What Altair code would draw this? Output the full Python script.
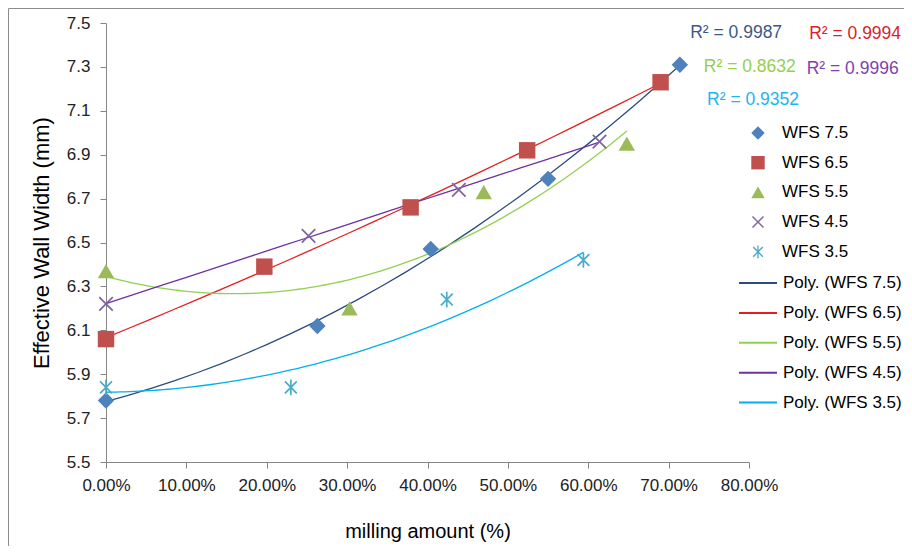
import altair as alt
import pandas as pd

# ---------------- data ----------------
series_names = ["WFS 7.5", "WFS 6.5", "WFS 5.5", "WFS 4.5", "WFS 3.5"]
trend_names = ["Poly. (WFS 7.5)", "Poly. (WFS 6.5)", "Poly. (WFS 5.5)",
               "Poly. (WFS 4.5)", "Poly. (WFS 3.5)"]

x_wfs75 = [0.000, 0.263, 0.404, 0.550, 0.714]
y_wfs75 = [5.78, 6.12, 6.47, 6.79, 7.31]
x_wfs65 = [0.000, 0.197, 0.379, 0.524, 0.690]
y_wfs65 = [6.06, 6.39, 6.66, 6.92, 7.23]
x_wfs55 = [0.000, 0.303, 0.470, 0.648]
y_wfs55 = [6.37, 6.20, 6.73, 6.95]
x_wfs45 = [0.000, 0.252, 0.439, 0.614]
y_wfs45 = [6.22, 6.53, 6.74, 6.96]
x_wfs35 = [0.000, 0.230, 0.424, 0.594]
y_wfs35 = [5.84, 5.84, 6.24, 6.42]

r2_labels = ["R² = 0.9987", "R² = 0.9994", "R² = 0.8632", "R² = 0.9996", "R² = 0.9352"]
r2_anchor_x = [0.784, 0.932, 0.801, 0.929, 0.805]
r2_anchor_y = [7.456, 7.449, 7.301, 7.290, 7.149]

x_ticks = [0.0, 0.1, 0.2, 0.3, 0.4, 0.5, 0.6, 0.7, 0.8]
y_ticks = [5.5, 5.7, 5.9, 6.1, 6.3, 6.5, 6.7, 6.9, 7.1, 7.3, 7.5]

# ---------------- styles ----------------
marker_colors = ["#4F81BD", "#C0504D", "#9BBB59", "#8064A2", "#4BACC6"]
trend_colors = ["#2B4C7E", "#E0201F", "#92D050", "#7030A0", "#00B0F0"]
r2_colors = ["#3A5A86", "#D8232A", "#92D050", "#7F3FB0", "#1EB4F0"]


def fmt(v):
    return f"{v:.3f}".rstrip("0").rstrip(".")


def diag_x(a, d):
    p1 = [(-a + d, -a - d), (a + d, a - d), (a - d, a + d), (-a - d, -a + d)]
    p2 = [(-a + d, a + d), (-a - d, a - d), (a - d, -a - d), (a + d, -a + d)]
    out = ""
    for poly in (p1, p2):
        out += "M" + "L".join(f"{fmt(x)},{fmt(y)}" for x, y in poly) + "Z"
    return out


x_path = diag_x(0.82, 0.075)
v = [(-0.1, -0.95), (0.1, -0.95), (0.1, 0.95), (-0.1, 0.95)]
star_path = diag_x(0.72, 0.075) + "M" + "L".join(f"{fmt(x)},{fmt(y)}" for x, y in v) + "Z"
shapes = ["diamond", "square", "triangle-up", x_path, star_path]

# ---------------- tables ----------------
rows = []
for name, xs, ys in zip(series_names,
                        [x_wfs75, x_wfs65, x_wfs55, x_wfs45, x_wfs35],
                        [y_wfs75, y_wfs65, y_wfs55, y_wfs45, y_wfs35]):
    for xv, yv in zip(xs, ys):
        rows.append({"series": name, "x": xv, "y": yv})
df = pd.DataFrame(rows)

df_r2 = pd.DataFrame({"label": r2_labels, "x": r2_anchor_x, "y": r2_anchor_y,
                      "col": r2_colors})

FONT = "Liberation Sans"

x_enc = alt.X("x:Q",
              scale=alt.Scale(domain=[0, 0.8], nice=False, zero=False),
              axis=alt.Axis(values=x_ticks, format=".2%", title="milling amount (%)",
                            labelPadding=9, titlePadding=28, labelOverlap=False,
                            labelFlush=False))
y_enc = alt.Y("y:Q",
              scale=alt.Scale(domain=[5.5, 7.5], nice=False, zero=False),
              axis=alt.Axis(values=y_ticks, format=".1f", title="Effective Wall Width (mm)",
                            labelPadding=10, titlePadding=13, titleFontSize=22,
                            labelOverlap=False, labelFlush=False))

border = alt.Chart(pd.DataFrame({"k": [0]})).mark_rect(
    fill="transparent", stroke="#8c8c8c", strokeWidth=1
).encode(x=alt.value(-97.5), x2=alt.value(900), y=alt.value(-14.5), y2=alt.value(700))

trend = alt.Chart(df).transform_regression(
    "x", "y", groupby=["series"], method="poly", order=2
).transform_calculate(
    trend="'Poly. (' + datum.series + ')'"
).mark_line(strokeWidth=1.3).encode(
    x=x_enc, y=y_enc,
    stroke=alt.Stroke("trend:N",
                      scale=alt.Scale(domain=trend_names, range=trend_colors),
                      legend=alt.Legend(title=None, orient="none", legendX=632, legendY=240,
                                        symbolType="stroke", symbolSize=1444,
                                        symbolStrokeWidth=2, labelOffset=5,
                                        rowPadding=1.9, padding=0, labelFontSize=17,
                                        labelFont=FONT, labelColor="#000000"))
)

points = alt.Chart(df).mark_point(filled=True, size=270, opacity=1, strokeWidth=0).encode(
    x=x_enc, y=y_enc,
    color=alt.Color("series:N",
                    scale=alt.Scale(domain=series_names, range=marker_colors),
                    legend=alt.Legend(title=None, orient="none", legendX=643.5, legendY=101.5,
                                      symbolSize=180, symbolStrokeWidth=0,
                                      labelOffset=15.5, rowPadding=11.7, padding=0,
                                      labelFontSize=17, labelFont=FONT,
                                      labelColor="#000000", symbolOpacity=1)),
    shape=alt.Shape("series:N", scale=alt.Scale(domain=series_names, range=shapes),
                    legend=alt.Legend(title=None, orient="none", legendX=643.5,
                                      legendY=101.5)),
)

r2 = alt.Chart(df_r2).mark_text(fontSize=17.5, font=FONT, align="center", baseline="middle").encode(
    x=alt.X("x:Q"), y=alt.Y("y:Q"), text="label:N", color=alt.Color("col:N", scale=None)
)

chart = alt.layer(border, trend, points, r2).properties(
    width=643, height=439,
    autosize=alt.AutoSizeParams(type="none"),
    padding={"left": 98, "top": 15, "right": 155, "bottom": 84},
).configure_view(stroke=None).configure_axis(
    grid=False, domainColor="#868686", tickColor="#868686", tickSize=6,
    labelFont=FONT, titleFont=FONT, labelFontSize=17, titleFontSize=20,
    titleFontWeight="normal", labelColor="#222222", titleColor="#000000",
    domainWidth=1, tickWidth=1
)

chart.save("out.html", embed_options={"renderer": "svg", "actions": False})
